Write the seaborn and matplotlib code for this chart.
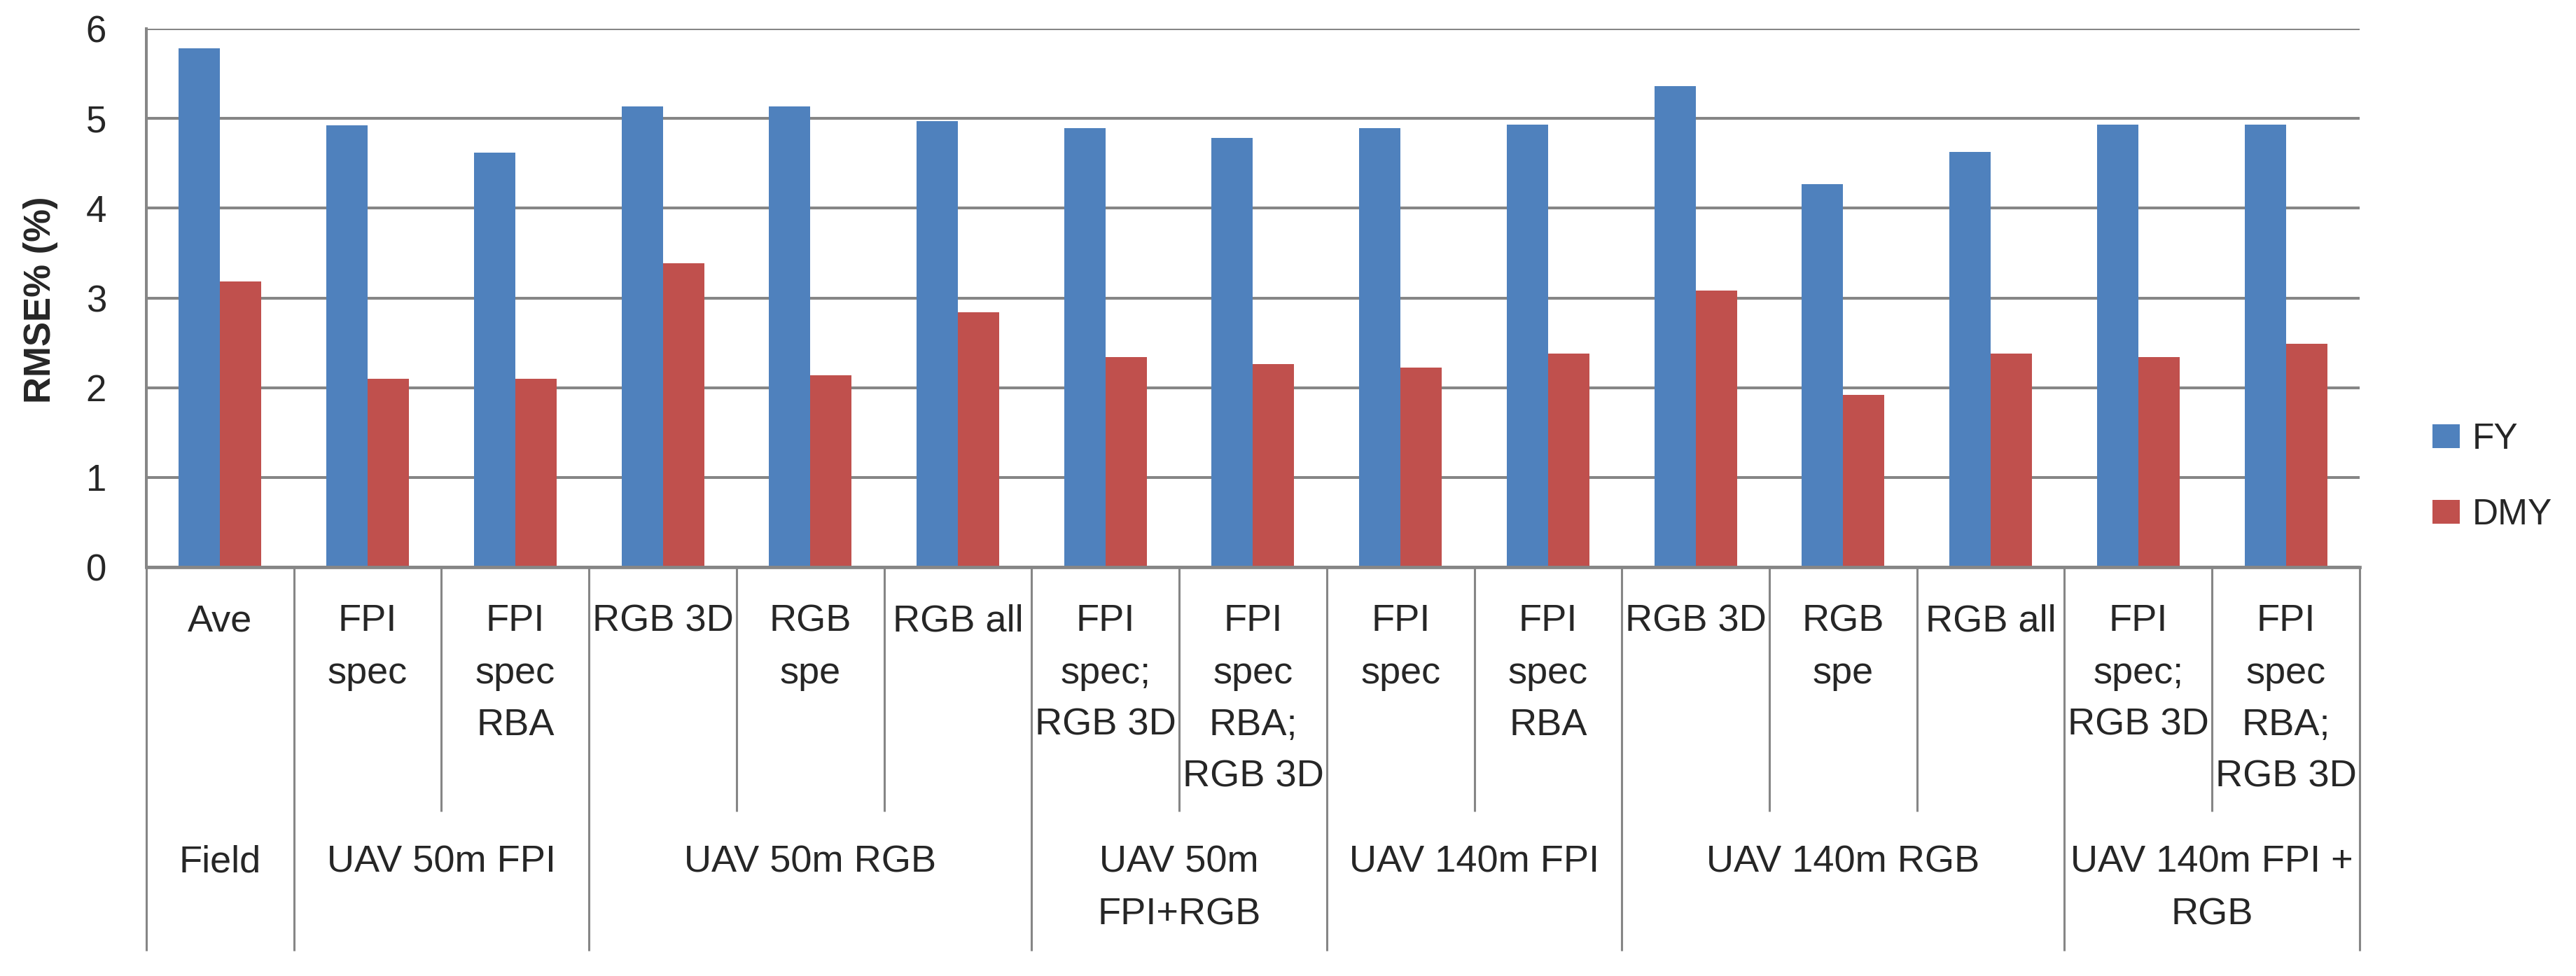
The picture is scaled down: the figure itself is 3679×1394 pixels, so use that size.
import pandas as pd
import seaborn as sns
import matplotlib.pyplot as plt
import matplotlib.transforms as mtransforms

# data
categories = ["Ave", "FPI\nspec", "FPI\nspec\nRBA", "RGB 3D", "RGB\nspe", "RGB all",
              "FPI\nspec;\nRGB 3D", "FPI\nspec\nRBA;\nRGB 3D",
              "FPI\nspec", "FPI\nspec\nRBA", "RGB 3D", "RGB\nspe", "RGB all",
              "FPI\nspec;\nRGB 3D", "FPI\nspec\nRBA;\nRGB 3D"]
groups = ["Field", "UAV 50m FPI", "UAV 50m RGB", "UAV 50m\nFPI+RGB",
          "UAV 140m FPI", "UAV 140m RGB", "UAV 140m FPI +\nRGB"]
group_sizes = [1, 2, 3, 2, 2, 3, 2]
fy = [5.78, 4.92, 4.62, 5.13, 5.13, 4.97, 4.89, 4.78, 4.89, 4.93, 5.36, 4.27, 4.63, 4.93, 4.93]
dmy = [3.18, 2.10, 2.10, 3.39, 2.14, 2.84, 2.34, 2.26, 2.22, 2.38, 3.08, 1.92, 2.38, 2.34, 2.49]
series = ["FY", "DMY"]
yticks = [0, 1, 2, 3, 4, 5, 6]

df = pd.DataFrame({
    "idx": list(range(len(categories))) * 2,
    "value": fy + dmy,
    "series": [series[0]] * len(fy) + [series[1]] * len(dmy),
})

sns.set_style("white")
plt.rcParams["font.family"] = ["Liberation Sans", "DejaVu Sans"]

grey = "#868686"
fig = plt.figure(figsize=(36.79, 13.94), dpi=100)
ax = fig.add_axes([0.0568, 0.4189, 0.8592, 0.5517])

sns.barplot(data=df, x="idx", y="value", hue="series", hue_order=series,
            palette=["#4F81BD", "#C0504D"], saturation=1, width=0.56,
            linewidth=0, ax=ax)

ax.set_xlim(-0.5, len(categories) - 0.5)
ax.set_ylim(0, 6)
ax.set_yticks(yticks)
ax.set_xticks([])
ax.set_xlabel("")
ax.set_ylabel("")
ax.set_axisbelow(True)
ax.yaxis.grid(True, color=grey, linewidth=2.9)
ax.xaxis.grid(False)
for s in ["top", "right"]:
    ax.spines[s].set_visible(False)
ax.spines["left"].set_color(grey)
ax.spines["left"].set_linewidth(2.9)
ax.spines["bottom"].set_color(grey)
ax.spines["bottom"].set_linewidth(3.4)
ax.tick_params(axis="y", length=15, width=2.9, color=grey, pad=26, labelsize=38)

# two-level category axis below the plot
trans = mtransforms.blended_transform_factory(ax.transData, ax.transAxes)
bounds = [0]
for g in group_sizes:
    bounds.append(bounds[-1] + g)
for b in range(len(categories) + 1):
    y_end = -0.7126 if b in bounds else -0.4538
    ax.plot([b - 0.5, b - 0.5], [0, y_end], transform=trans, color=grey,
            linewidth=2.2, clip_on=False, solid_capstyle="butt")

for i, cat in enumerate(categories):
    ax.text(i, -0.068, cat, transform=trans, ha="center", va="top",
            multialignment="center", fontsize=39, linespacing=1.62)

for g, name in enumerate(groups):
    center = bounds[g] + (group_sizes[g] - 1) / 2
    ax.text(center, -0.516, name, transform=trans, ha="center", va="top",
            multialignment="center", fontsize=39, linespacing=1.62)

fig.text(58 / 3679, 1 - 428 / 1394, "RMSE% (%)", rotation=90, ha="center",
         va="center", fontsize=38, fontweight="bold")

handles, labels = ax.get_legend_handles_labels()
ax.get_legend().remove()
fig.legend(handles, labels, loc="center left", bbox_to_anchor=(3474 / 3679, 0.511),
           frameon=False, fontsize=37, handlelength=0.75,
           handleheight=0.62, handletextpad=0.36, labelspacing=1.15,
           borderpad=0, borderaxespad=0)

fig.savefig("out.png", dpi=100, facecolor="white")
